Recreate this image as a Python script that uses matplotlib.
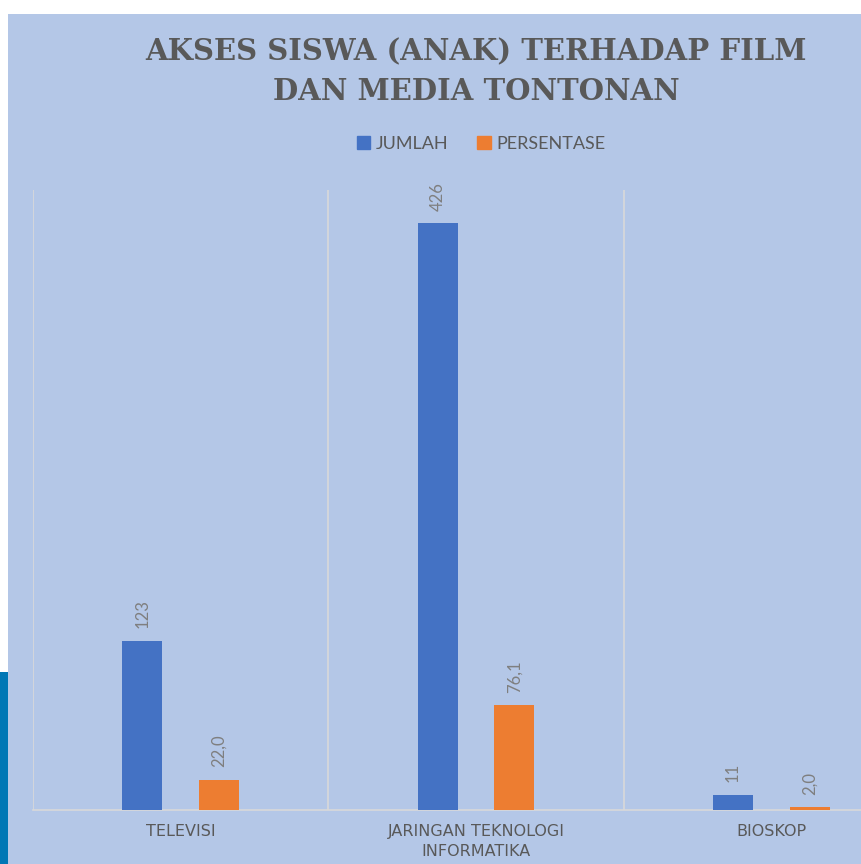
import matplotlib.pyplot as plt
from matplotlib.patches import Rectangle

# data
categories = ['TELEVISI', 'JARINGAN TEKNOLOGI\nINFORMATIKA', 'BIOSKOP']
jumlah = [123, 426, 11]
persentase = [22.0, 76.1, 2.0]
series_names = ['JUMLAH', 'PERSENTASE']

blue = '#4472C4'
orange = '#ED7D31'
bg = '#B4C7E7'
text_gray = '#595959'
label_gray = '#7F7F7F'
grid_gray = '#D9D9D9'

W, H = 861, 864
fig = plt.figure(figsize=(W / 100, H / 100), dpi=100, facecolor='white')

# light blue chart background + decorative strip at the left
fig.patches.append(Rectangle((8 / W, 0), 1, 1 - 14 / H, transform=fig.transFigure,
                             facecolor=bg, edgecolor='none', zorder=-10))
fig.patches.append(Rectangle((0, 0), 8 / W, (H - 672) / H, transform=fig.transFigure,
                             facecolor='#0077B5', edgecolor='none', zorder=-9))

# plot area runs past the right edge, like the cropped original
ax = fig.add_axes([33 / W, 54 / H, 886 / W, 620 / H])
ax.set_facecolor('none')

x = list(range(len(categories)))
width = 0.136
off = 0.13
b1 = ax.bar([i - off for i in x], jumlah, width, color=blue, zorder=3, label=series_names[0])
b2 = ax.bar([i + off for i in x], persentase, width, color=orange, zorder=3, label=series_names[1])

ax.set_xlim(-0.5, 2.5)
ax.set_ylim(0, 450)

for rect, v in zip(b1, jumlah):
    ax.annotate(str(v), (rect.get_x() + rect.get_width() / 2, rect.get_height()),
                xytext=(0, 9), textcoords='offset points', rotation=90,
                ha='center', va='bottom', color=label_gray, fontsize=12, family='Lato')
for rect, v in zip(b2, persentase):
    ax.annotate('{:.1f}'.format(v).replace('.', ','), (rect.get_x() + rect.get_width() / 2, rect.get_height()),
                xytext=(0, 9), textcoords='offset points', rotation=90,
                ha='center', va='bottom', color=label_gray, fontsize=12, family='Lato')

ax.set_xticks(x)
ax.set_xticklabels(categories, color=text_gray, fontsize=11.5, family='DejaVu Sans', linespacing=1.45)
ax.set_xticks([-0.5, 0.5, 1.5, 2.5], minor=True)
ax.tick_params(axis='x', which='both', length=0, pad=10)
ax.set_yticks([])
ax.grid(axis='x', which='minor', color=grid_gray, linewidth=1.2, zorder=0)
for s in ['top', 'right', 'left']:
    ax.spines[s].set_visible(False)
ax.spines['bottom'].set_color(grid_gray)
ax.spines['bottom'].set_linewidth(1.2)

fig.text(476 / W, 1 - 72 / H, 'AKSES SISWA (ANAK) TERHADAP FILM\nDAN MEDIA TONTONAN',
         ha='center', va='center', fontsize=21, fontweight='bold', family='DejaVu Serif',
         color=text_gray, linespacing=1.45)

handles = [Rectangle((0, 0), 1, 1, color=blue), Rectangle((0, 0), 1, 1, color=orange)]
fig.legend(handles, series_names, loc='center', bbox_to_anchor=(481 / W, 1 - 144 / H), ncol=2,
           frameon=False, handlelength=0.75, handleheight=0.75, handletextpad=0.3,
           columnspacing=1.6, prop={'family': 'Lato', 'size': 13}, labelcolor=text_gray)

fig.savefig('out.png', dpi=100, facecolor=fig.get_facecolor())
